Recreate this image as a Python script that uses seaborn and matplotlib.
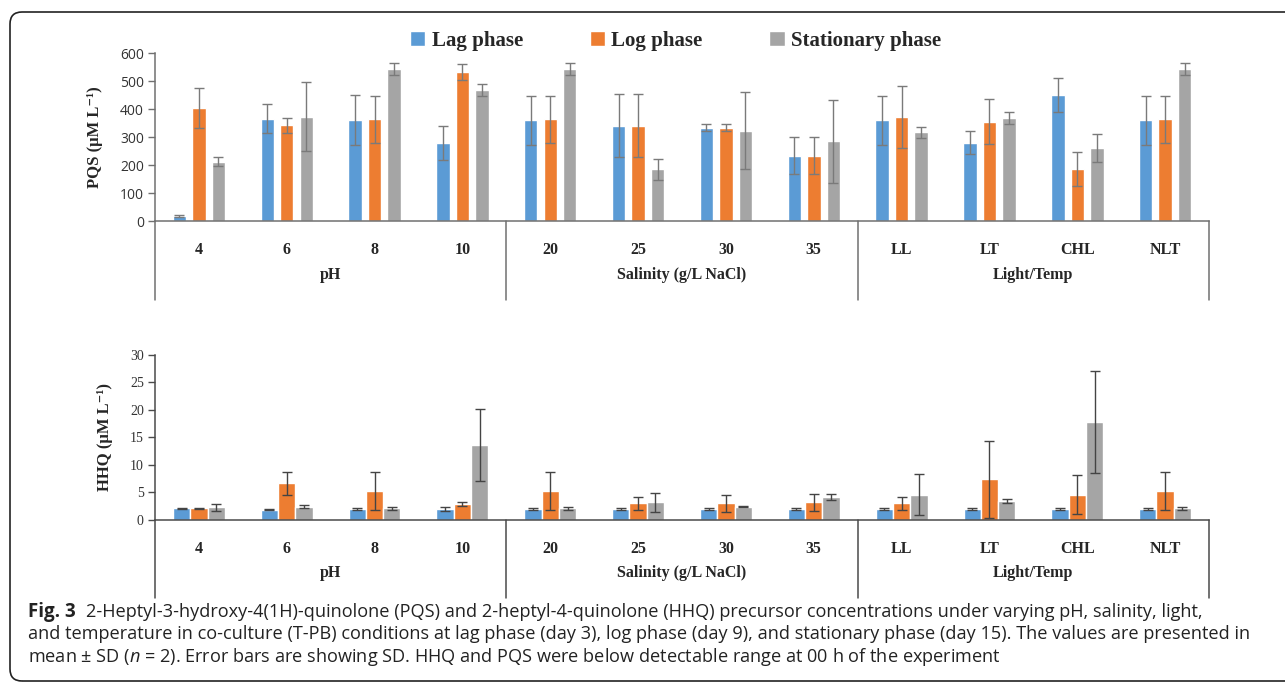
import matplotlib
matplotlib.use("Agg")
import matplotlib.pyplot as plt
from matplotlib.patches import FancyBboxPatch
import pandas as pd
import seaborn as sns

# categories on the x axis and their groups
categories = ["4", "6", "8", "10", "20", "25", "30", "35", "LL", "LT", "CHL", "NLT"]
groups = ["pH", "Salinity (g/L NaCl)", "Light/Temp"]
phases = ["Lag phase", "Log phase", "Stationary phase"]
colors = ["#5B9BD5", "#ED7D31", "#A5A5A5"]

# PQS (uM/L), mean and SD
pqs_lag = [18, 366, 360, 278, 360, 341, 333, 233, 359, 280, 451, 359]
pqs_lag_sd = [3, 53, 90, 60, 88, 113, 13, 66, 89, 40, 61, 89]
pqs_log = [403, 342, 363, 533, 364, 341, 333, 233, 372, 355, 185, 363]
pqs_log_sd = [71, 26, 84, 28, 84, 113, 13, 66, 110, 80, 60, 84]
pqs_stat = [212, 373, 544, 469, 543, 185, 322, 284, 317, 369, 260, 543]
pqs_stat_sd = [17, 124, 22, 21, 22, 38, 138, 147, 20, 21, 50, 22]

# HHQ (uM/L), mean and SD
hhq_lag = [2.1, 1.9, 2.0, 2.0, 2.0, 2.0, 2.0, 2.0, 2.0, 2.0, 2.0, 2.0]
hhq_lag_sd = [0.15, 0.05, 0.1, 0.3, 0.1, 0.1, 0.1, 0.1, 0.1, 0.1, 0.1, 0.1]
hhq_log = [2.1, 6.7, 5.3, 2.9, 5.3, 3.0, 3.0, 3.2, 3.0, 7.4, 4.6, 5.3]
hhq_log_sd = [0.1, 2.1, 3.5, 0.3, 3.5, 1.2, 1.5, 1.6, 1.2, 7.0, 3.5, 3.5]
hhq_stat = [2.3, 2.4, 2.1, 13.6, 2.1, 3.2, 2.4, 4.2, 4.6, 3.5, 17.8, 2.1]
hhq_stat_sd = [0.6, 0.25, 0.2, 6.5, 0.2, 1.7, 0.1, 0.55, 3.75, 0.35, 9.2, 0.2]

sns.set_style("white")
plt.rcParams["font.family"] = ["Liberation Serif", "DejaVu Serif"]
plt.rcParams["mathtext.fontset"] = "custom"
plt.rcParams["mathtext.it"] = "Open Sans:italic"
plt.rcParams["mathtext.rm"] = "Open Sans"


def long_df(series, name):
    rows = []
    for phase, vals in zip(phases, series):
        for c, v in zip(categories, vals):
            rows.append({"Condition": c, "Phase": phase, name: v})
    return pd.DataFrame(rows)


def draw_panel(ax, df, col, sds, width, gap, ylim, step, ylabel, axcol, errcol, tickfont, sep):
    sns.barplot(data=df, x="Condition", y=col, hue="Phase", order=categories,
                hue_order=phases, palette=colors, saturation=1, width=width, gap=gap,
                errorbar=None, legend=False, ax=ax)
    for cont, sd in zip(ax.containers, sds):
        xs = [p.get_x() + p.get_width() / 2 for p in cont]
        ys = [p.get_height() for p in cont]
        ax.errorbar(xs, ys, yerr=sd, fmt="none", ecolor=errcol, elinewidth=1,
                    capsize=3.5, capthick=1)
    ax.set_xlim(-0.5, 11.5)
    ax.set_ylim(*ylim)
    ax.set_yticks(range(ylim[0], ylim[1] + 1, step))
    for t in ax.get_yticklabels():
        t.set_fontfamily(tickfont)
        t.set_fontsize(10)
        t.set_color("#333333")
    ax.tick_params(axis="y", length=5, width=1, color=axcol, pad=3, left=True)
    ax.tick_params(axis="x", length=0, pad=15)
    for t in ax.get_xticklabels():
        t.set_fontweight("bold")
        t.set_fontsize(11.5)
    ax.set_xlabel("")
    ax.set_ylabel(ylabel, fontsize=12, fontweight="bold", labelpad=12)
    sns.despine(ax=ax, top=True, right=True)
    for s in ["left", "bottom"]:
        ax.spines[s].set_color(axcol)
        ax.spines[s].set_linewidth(1.1)
    for xv in [-0.5, 3.5, 7.5, 11.5]:
        ax.axvline(xv, ymin=sep, ymax=0, color=axcol, lw=1.1, clip_on=False)
    for i, g in enumerate(groups):
        ax.text(1.5 + 4 * i, sep * 0.68, g, transform=ax.get_xaxis_transform(),
                ha="center", va="center", fontsize=11.5, fontweight="bold")


fig = plt.figure(figsize=(12.85, 6.83), dpi=100)
ax1 = fig.add_axes([0.1206, 0.6764, 0.8203, 0.2460])
ax2 = fig.add_axes([0.1206, 0.2387, 0.8203, 0.2416])

draw_panel(ax1, long_df([pqs_lag, pqs_log, pqs_stat], "PQS"), "PQS",
           [pqs_lag_sd, pqs_log_sd, pqs_stat_sd], 0.666, 0.31, (0, 600), 100,
           "PQS (µM L⁻¹)", "#707070", "#7a7a7a", "Open Sans", -0.47)
draw_panel(ax2, long_df([hhq_lag, hhq_log, hhq_stat], "HHQ"), "HHQ",
           [hhq_lag_sd, hhq_log_sd, hhq_stat_sd], 0.59, 0.0, (0, 30), 5,
           "HHQ (µM L⁻¹)", "#4a4a4a", "#444444", "Liberation Serif", -0.473)

fig.legend(ax1.containers, phases, loc="center", bbox_to_anchor=(0.5257, 0.94),
           ncol=3, frameon=False, handlelength=0.75, handleheight=0.75,
           handletextpad=0.3, columnspacing=3.2,
           prop={"family": "Liberation Serif", "weight": "bold", "size": 15})

# caption
cap = dict(fontsize=13.1, family="Open Sans", color="#222222", va="center", ha="left")
fig.text(0.0218, 1 - 612 / 683, "Fig. 3", fontweight="bold", **{**cap, "fontsize": 13.5})
fig.text(0.0669, 1 - 612 / 683,
         "2-Heptyl-3-hydroxy-4(1H)-quinolone (PQS) and 2-heptyl-4-quinolone (HHQ) precursor "
         "concentrations under varying pH, salinity, light,", **cap)
fig.text(0.0218, 1 - 634 / 683,
         "and temperature in co-culture (T-PB) conditions at lag phase (day 3), log phase (day 9), "
         "and stationary phase (day 15). The values are presented in", **cap)
fig.text(0.0218, 1 - 657 / 683,
         "mean ± SD ($n$ = 2). Error bars are showing SD. HHQ and PQS were below detectable range "
         "at 00 h of the experiment", **cap)

# rounded frame around the figure
frame = FancyBboxPatch((0.1, 0.02), 13.0, 6.69, boxstyle="round,pad=0,rounding_size=0.12",
                       transform=fig.dpi_scale_trans, fill=False, ec="#222222", lw=1.2)
fig.patches.append(frame)

fig.savefig("out.png", dpi=100)
